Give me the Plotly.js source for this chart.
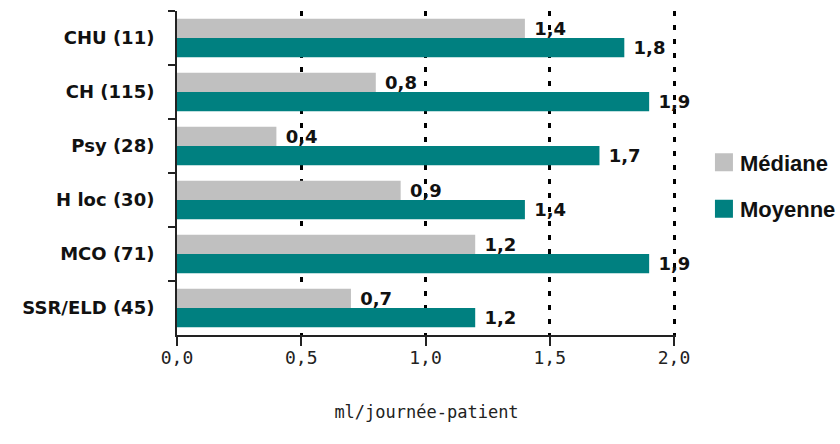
<!DOCTYPE html>
<html>
<head>
<meta charset="utf-8">
<script src="https://cdn.plot.ly/plotly-3.0.1.min.js"></script>
<style>
  html, body { margin: 0; padding: 0; background: #fff; }
  #chart { width: 840px; height: 444px; }
  /* larger square swatches in the legend */
  .legendpoints path { transform: translate(24px, 0px) scale(1.5); }
</style>
</head>
<body>
<div id="chart"></div>
<script>
// Établissements (nombre) de haut en bas
const categories = ['CHU (11)', 'CH (115)', 'Psy (28)', 'H loc (30)', 'MCO (71)', 'SSR/ELD (45)'];
const medianeValues = [1.4, 0.8, 0.4, 0.9, 1.2, 0.7];
const moyenneValues = [1.8, 1.9, 1.7, 1.4, 1.9, 1.2];
const xTickValues = [0, 0.5, 1.0, 1.5, 2.0];

const labelFont = { family: 'DejaVu Sans', size: 18, color: '#111', weight: 'bold' };

function barTrace(name, values, color, group) {
  return {
    type: 'bar',
    orientation: 'h',
    name: name,
    legendgroup: group,
    y: categories,
    x: values,
    marker: { color: color, line: { width: 0 } },
    texttemplate: '\u00a0%{x:.1f}',
    textposition: 'outside',
    constraintext: 'none',
    cliponaxis: false,
    textfont: labelFont,
    hoverinfo: 'skip'
  };
}

const data = [
  barTrace('Médiane', medianeValues, '#c0c0c0', 'med'),
  barTrace('Moyenne', moyenneValues, '#008080', 'moy')
];

const layout = {
  width: 840,
  height: 444,
  margin: { l: 177, r: 164, t: 11, b: 109, pad: 0, autoexpand: false },
  paper_bgcolor: '#ffffff',
  plot_bgcolor: '#ffffff',
  separators: ',.',
  barmode: 'group',
  bargap: 0.283,
  bargroupgap: 0,
  showlegend: true,
  legend: {
    x: 1.048, xanchor: 'left',
    y: 0.46, yanchor: 'middle',
    traceorder: 'grouped',
    tracegroupgap: 15,
    font: { family: 'Liberation Sans', size: 22, color: '#111', weight: 'bold' },
    bgcolor: 'rgba(0,0,0,0)',
    borderwidth: 0
  },
  xaxis: {
    // a little headroom past 2,0 keeps its grid line drawn
    range: [0, 2.008],
    tickvals: xTickValues,
    tickformat: '.1f',
    ticks: 'outside',
    ticklen: 9,
    tickwidth: 2,
    tickcolor: '#222',
    showline: true,
    linecolor: '#222',
    linewidth: 2,
    zeroline: false,
    showgrid: true,
    gridcolor: '#000',
    gridwidth: 3,
    griddash: '5px,9px',
    ticklabelstandoff: -4,
    tickfont: { family: 'DejaVu Sans Mono', size: 18, color: '#222' },
    title: {
      text: 'ml/journée-patient',
      font: { family: 'DejaVu Sans Mono', size: 17, color: '#222' },
      standoff: 40
    },
    fixedrange: true
  },
  yaxis: {
    type: 'category',
    categoryorder: 'array',
    categoryarray: categories,
    autorange: 'reversed',
    tickson: 'boundaries',
    ticks: 'outside',
    ticklen: 7,
    tickwidth: 2,
    tickcolor: '#222',
    showline: true,
    linecolor: '#222',
    linewidth: 2,
    showgrid: false,
    zeroline: false,
    ticklabelstandoff: 17,
    tickfont: labelFont,
    fixedrange: true
  }
};

Plotly.newPlot('chart', data, layout, { displayModeBar: false, staticPlot: true });
</script>
</body>
</html>
